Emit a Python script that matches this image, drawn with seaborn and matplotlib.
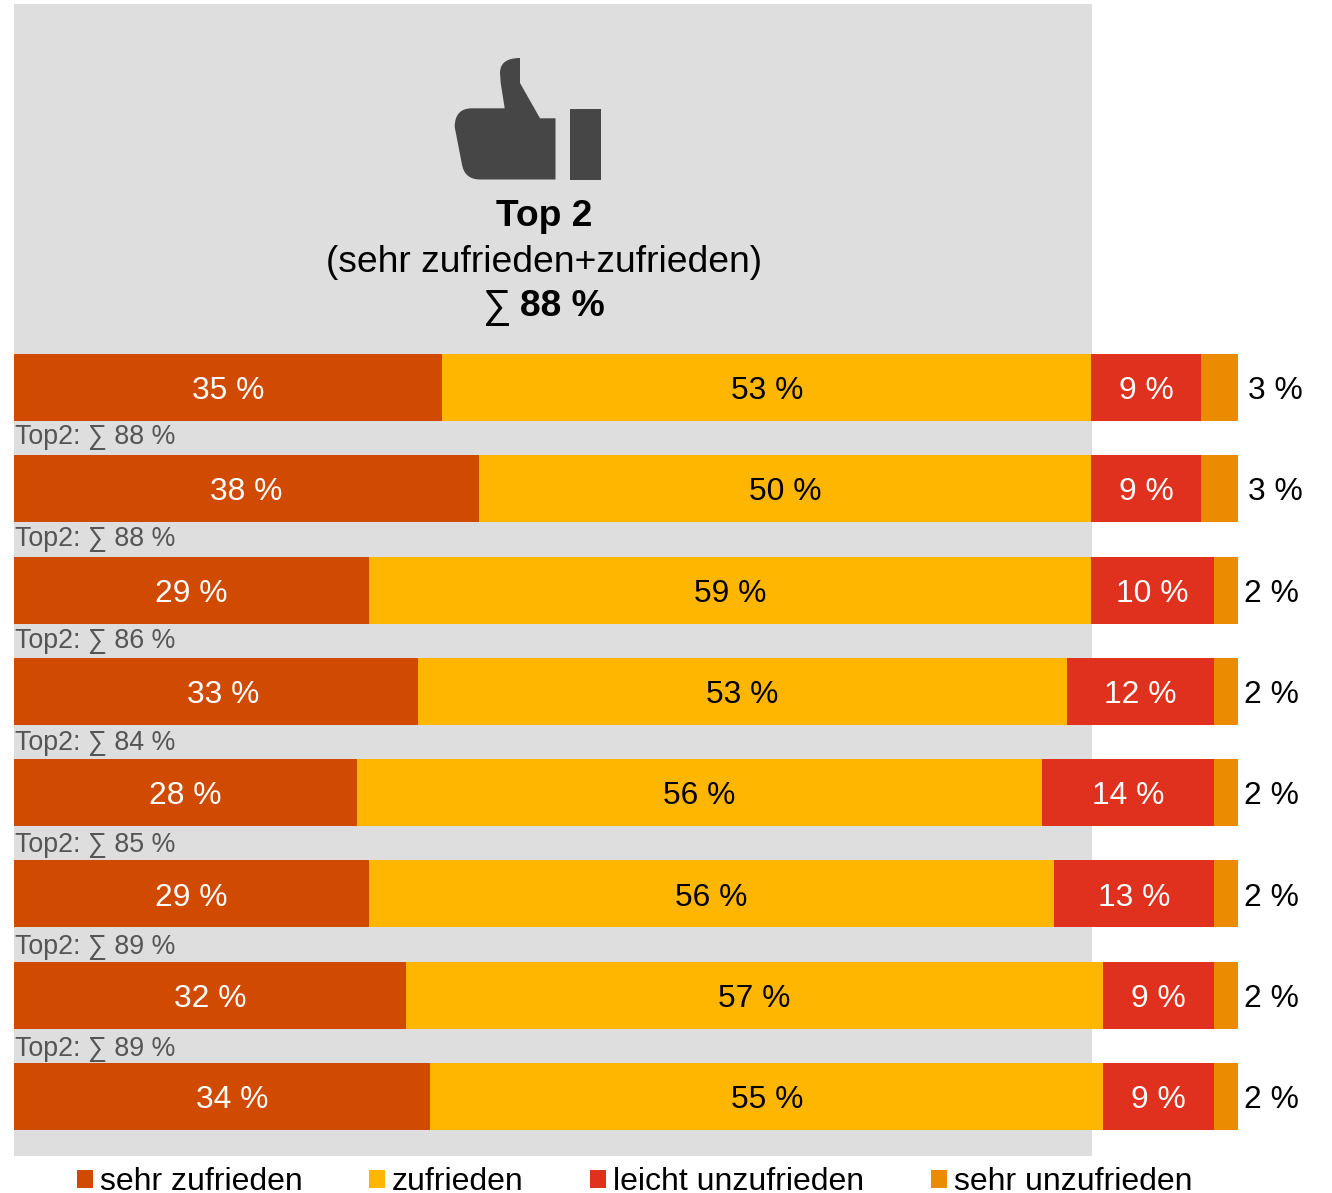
import matplotlib
matplotlib.use("Agg")
import matplotlib.pyplot as plt
import pandas as pd
import seaborn as sns
from matplotlib.patches import PathPatch, Rectangle
from matplotlib.path import Path
from matplotlib.transforms import Affine2D

# Survey results per row, in percent
rows = ["A", "B", "C", "D", "E", "F", "G", "H"]
sehr_zufrieden = [35, 38, 29, 33, 28, 29, 32, 34]
zufrieden = [53, 50, 59, 53, 56, 56, 57, 55]
leicht_unzufrieden = [9, 9, 10, 12, 14, 13, 9, 9]
sehr_unzufrieden = [3, 3, 2, 2, 2, 2, 2, 2]

series_names = ["sehr zufrieden", "zufrieden", "leicht unzufrieden", "sehr unzufrieden"]
series_values = [sehr_zufrieden, zufrieden, leicht_unzufrieden, sehr_unzufrieden]
series_colors = ["#D04A02", "#FFB600", "#E0301E", "#EB8C00"]
label_colors = ["white", "black", "white"]

W, H = 1332, 1193
PANEL = "#DEDEDE"
DARK = "#464646"
FONT = ["Liberation Sans", "DejaVu Sans"]
px = lambda n: n * 0.72

sns.set_theme(style="white")
plt.rcParams["font.family"] = FONT
plt.rcParams["text.color"] = "black"

fig = plt.figure(figsize=(W / 100, H / 100), dpi=100, facecolor="white")
# Axes spans the grey panel vertically and 0-100 % horizontally
ax = fig.add_axes([14 / W, 1 - 1156 / H, (1238 - 14) / W, (1156 - 4) / H])
ax.patch.set_alpha(0)

df = pd.DataFrame({"row": rows})
cum = [0] * len(rows)
cumulative = []
for vals in series_values:
    cum = [c + v for c, v in zip(cum, vals)]
    cumulative.append(cum)

# Stacking is done by layering cumulative totals, widest first
handles = []
for name, color, totals in reversed(list(zip(series_names, series_colors, cumulative))):
    df[name] = totals
    sns.barplot(data=df, x=name, y="row", order=rows, color=color, saturation=1,
                width=0.662, linewidth=0, ax=ax, zorder=3)
    handles.insert(0, Rectangle((0, 0), 1, 1, facecolor=color, edgecolor="none", label=name))

pitch = (1096.5 - 387.5) / 7
ax.set_xlim(0, 100)
ax.set_ylim((1156 - 387.5) / pitch, (4 - 387.5) / pitch)
ax.axvspan(0, (1092 - 14) / 12.24, color=PANEL, zorder=0, linewidth=0)
ax.set_axis_off()

# Two first-segment labels sit slightly right of their segment's centre
first_label_shift = {3: 7, 7: 10}

# Percentage labels inside and beside the bars
for i in range(len(rows)):
    left = 0
    for j in range(3):
        v = series_values[j][i]
        shift = first_label_shift.get(i, 0) if j == 0 else 0
        ax.annotate(f"{v} %", xy=(left + v / 2, i), xytext=(px(shift), px(-3.6)),
                    textcoords="offset points", color=label_colors[j], ha="center",
                    va="center", fontsize=px(31.8), zorder=5)
        left += v
    outer = sehr_unzufrieden[i]
    ax.annotate(f"{outer} %", xy=(100, i), xytext=(px(25 + 4 * outer), px(-3.6)),
                textcoords="offset points", ha="center", va="center",
                fontsize=px(31.8), color="black", annotation_clip=False)

# Top-2 sums sit in the gap above each bar except the first
for i in range(1, len(rows)):
    top2 = sehr_zufrieden[i] + zufrieden[i]
    ax.annotate(f"Top2: ∑ {top2} %", xy=(0, i - 0.5), xytext=(0.5, px(1 - (i - 1) * 0.67)),
                textcoords="offset points", ha="left", va="center",
                fontsize=px(26.8), color="#555555", annotation_clip=False)

# Header block
head_total = sehr_zufrieden[0] + zufrieden[0]
for y, text, weight in [(217, "Top 2", "bold"),
                        (262, "(sehr zufrieden+zufrieden)", "normal")]:
    fig.text(544 / W, 1 - y / H, text, ha="center", va="center",
             fontsize=px(37.2), fontweight=weight, color="black")
fig.text(497 / W, 1 - 307 / H, "∑", ha="center", va="center",
         fontsize=px(40), fontweight="normal", color="black")
fig.text(562.5 / W, 1 - 307 / H, f"{head_total} %", ha="center", va="center",
         fontsize=px(37.2), fontweight="bold", color="black")

# Thumbs-up icon, outlined in pixels from the top left of the figure
to_fig = Affine2D().scale(1, -1).translate(0, H)
hand = [
    (Path.MOVETO, (520, 58)), (Path.LINETO, (520, 83)), (Path.LINETO, (540, 118.3)),
    (Path.LINETO, (555.5, 118.3)), (Path.LINETO, (555.5, 179.5)), (Path.LINETO, (480, 179.5)),
    (Path.CURVE3, (464, 179.5)), (Path.CURVE3, (461.7, 163)), (Path.LINETO, (454.7, 127)),
    (Path.CURVE3, (454.7, 108.3)), (Path.CURVE3, (472, 108.3)), (Path.LINETO, (504.7, 108.3)),
    (Path.LINETO, (500.7, 83)), (Path.LINETO, (500, 73)),
    (Path.CURVE3, (500, 58)), (Path.CURVE3, (520, 58)),
    (Path.CLOSEPOLY, (520, 58)),
]
codes, verts = zip(*hand)
fig.add_artist(PathPatch(Path(verts, codes), facecolor=DARK, edgecolor="none",
                         transform=to_fig))
fig.add_artist(Rectangle((570, 109), 31, 71, facecolor=DARK, edgecolor="none",
                         transform=to_fig))

fig.legend(handles=handles, ncols=4, loc="center", bbox_to_anchor=(634.5 / W, 1 - 1182 / H),
           frameon=False, fontsize=px(32), handlelength=0.5, handleheight=0.5,
           handletextpad=0.22, columnspacing=2.08, borderpad=0, borderaxespad=0,
           labelcolor="black")

fig.savefig("out.png", dpi=100)
